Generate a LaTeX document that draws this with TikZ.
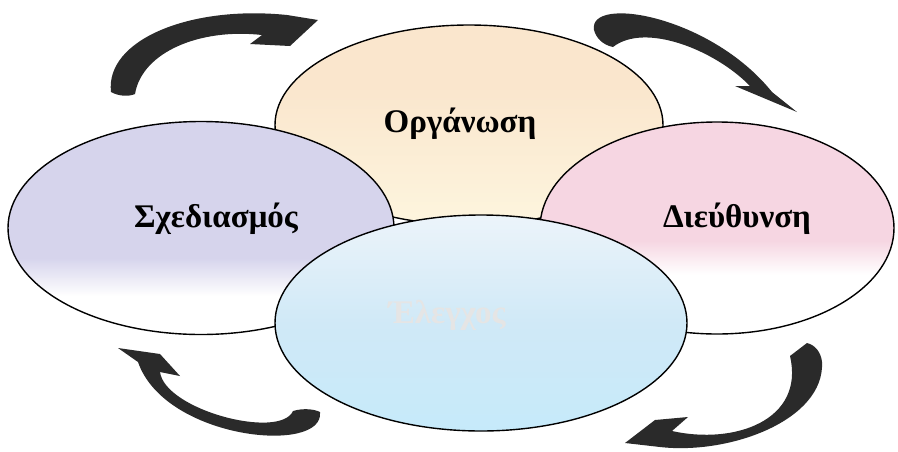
\documentclass[tikz,border=0pt]{standalone}
\usepackage{fontspec}
\setmainfont{Liberation Serif}
\usetikzlibrary{shapes.geometric}
\definecolor{arrowc}{RGB}{42,42,42}
\definecolor{peachtop}{RGB}{250,230,205}
\definecolor{peachbot}{RGB}{253,245,222}
\definecolor{lav}{RGB}{214,212,236}
\definecolor{pinkc}{RGB}{246,214,226}
\definecolor{bluetop}{RGB}{236,244,250}
\definecolor{bluemid}{RGB}{208,233,247}
\definecolor{bluebot}{RGB}{198,234,250}
\pgfdeclareverticalshading{shtop}{100bp}{color(0bp)=(peachbot); color(25bp)=(peachbot); color(60bp)=(peachtop); color(100bp)=(peachtop)}
\pgfdeclareverticalshading{shlav}{100bp}{color(0bp)=(white); color(34bp)=(white); color(43bp)=(lav); color(100bp)=(lav)}
\pgfdeclareverticalshading{shpink}{100bp}{color(0bp)=(white); color(39bp)=(white); color(47bp)=(pinkc); color(100bp)=(pinkc)}
\pgfdeclareverticalshading{shblue}{100bp}{color(0bp)=(bluebot); color(25bp)=(bluebot); color(50bp)=(bluemid); color(75bp)=(bluetop); color(100bp)=(bluetop)}
\tikzset{
  blob/.style={ellipse, draw=black, line width=1.4pt, inner sep=0pt},
  lbl/.style={font=\fontsize{33}{38}\selectfont\bfseries, anchor=base, inner sep=0pt},
  arr/.style={fill=arrowc, draw=none}
}
\begin{document}
\begin{tikzpicture}[x=1pt,y=-1pt]
\useasboundingbox (0,0) rectangle (898,451);
\fill[white] (0,0) rectangle (898,451);
% ellipses
\node[blob, shading=shtop, minimum width=388pt, minimum height=200pt] (org) at (469,125) {};
\node[blob, shading=shlav, minimum width=386pt, minimum height=213pt] (sxe) at (201,228) {};
\node[blob, shading=shpink, minimum width=354pt, minimum height=212pt] (die) at (717,228) {};
\node[blob, shading=shblue, minimum width=412pt, minimum height=216pt] (ele) at (481,323) {};
% labels
\node[lbl] (torg) at (460,132) {Οργάνωση};
\node[lbl] (tsxe) at (216,227) {Σχεδιασμός};
\node[lbl] (tdie) at (737,227) {Διεύθυνση};
\node[lbl, text=white!90!black] (tele) at (447,323) {Έλεγχος};
% arrows
\fill[arr] (111,92) .. controls (105,40) and (190,5) .. (287,15)
  -- (318,20) -- (290,46) -- (250,44) -- (262,35)
  .. controls (200,28) and (142,52) .. (135,94)
  .. controls (128,97) and (118,96) .. cycle;
\fill[arr] (594,30) .. controls (588,-5) and (710,15) .. (772,92)
  -- (797,112) -- (735,86) -- (750,86)
  .. controls (715,50) and (645,22) .. (613,47)
  .. controls (603,45) and (596,38) .. cycle;
\fill[arr] (118,348) -- (160,354) -- (180,376) -- (160,372)
  .. controls (165,410) and (280,440) .. (293,411)
  .. controls (303,408) and (314,409) .. (320,412)
  .. controls (325,455) and (165,440) .. (138,362) -- cycle;
\fill[arr] (625,443) -- (655,420) -- (688,417) -- (672,431)
  .. controls (735,445) and (805,420) .. (790,356)
  -- (807,343) .. controls (815,345) and (821,352) .. (822,362)
  .. controls (825,420) and (730,455) .. (660,447) -- cycle;
\end{tikzpicture}
\end{document}
